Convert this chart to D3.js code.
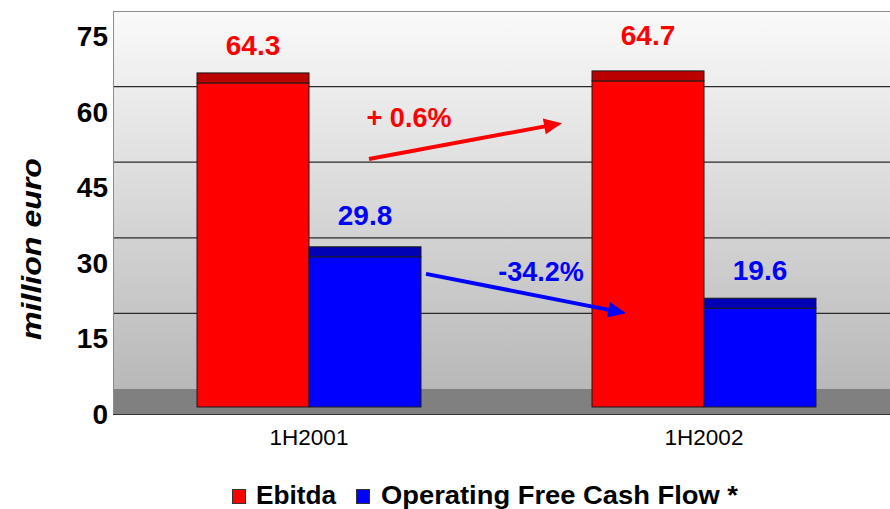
<!DOCTYPE html>
<html>
<head>
<meta charset="utf-8">
<script src="https://cdn.jsdelivr.net/npm/d3@7/dist/d3.min.js"></script>
<style>
  html, body { margin: 0; padding: 0; background: #ffffff; }
  svg { display: block; }
  text { font-family: "Liberation Sans", Arial, Helvetica, sans-serif; }
</style>
</head>
<body>
<svg id="chart" width="890" height="509"></svg>
<script>
// ---------------- data ----------------
const categories = ["1H2001", "1H2002"];
const seriesNames = ["Ebitda", "Operating Free Cash Flow *"];
const ebitda = [64.3, 64.7];
const freeCashFlow = [29.8, 19.6];
const yTicks = [0, 15, 30, 45, 60, 75];
const changeLabels = ["+ 0.6%", "-34.2%"];

// ---------------- layout ----------------
const W = 890, H = 509;
const wallLeft = 113, wallRight = 890;
const floorFront = 414;     // pixel of the floor front edge
const wallDepth = 25;       // vertical shift of the back wall
const barFrontDepth = 7;    // bar front face shift
const barBackDepth = 17;    // bar back face shift
const seriesColors = ["#ff0000", "#0000ff"];
const topColors = ["#bb0000", "#0000b4"];
// gap between bar top face and its value label [category][series]
const labelGap = [[18, 22], [26, 18]];

const svg = d3.select("#chart");

const y = d3.scaleLinear().domain([0, 75]).range([floorFront, 36]);
const x = d3.scaleBand().domain(categories).range([111.5, 901.5])
  .paddingInner(0.433).paddingOuter(0.2165);
const xs = d3.scaleBand().domain(seriesNames).range([0, x.bandwidth()]);

const values = [ebitda, freeCashFlow];

// ---------------- background wall ----------------
const defs = svg.append("defs");
const grad = defs.append("linearGradient").attr("id", "wallGrad")
  .attr("x1", 0).attr("y1", 0).attr("x2", 0).attr("y2", 1);
grad.append("stop").attr("offset", "0%").attr("stop-color", "#fafafa");
grad.append("stop").attr("offset", "100%").attr("stop-color", "#b8b8b8");

const wallTop = y(75) - wallDepth;
const wallBottom = y(0) - wallDepth;
svg.append("rect")
  .attr("x", wallLeft).attr("y", wallTop)
  .attr("width", wallRight - wallLeft).attr("height", wallBottom - wallTop)
  .attr("fill", "url(#wallGrad)");

// floor
svg.append("rect")
  .attr("x", wallLeft).attr("y", wallBottom)
  .attr("width", wallRight - wallLeft).attr("height", y(0) - wallBottom)
  .attr("fill", "#808080");

// gridlines on back wall
svg.selectAll("line.grid").data(yTicks.filter(d => d > 0 && d < 75))
  .join("line").attr("class", "grid")
  .attr("x1", wallLeft).attr("x2", wallRight)
  .attr("y1", d => y(d) - wallDepth).attr("y2", d => y(d) - wallDepth)
  .attr("stroke", "#2a2a2a").attr("stroke-width", 1.2);

// borders
svg.append("line").attr("x1", wallLeft).attr("x2", wallRight)
  .attr("y1", wallTop + 0.5).attr("y2", wallTop + 0.5)
  .attr("stroke", "#8c8c8c").attr("stroke-width", 1);
svg.append("line").attr("x1", wallLeft + 0.5).attr("x2", wallLeft + 0.5)
  .attr("y1", wallTop).attr("y2", y(0))
  .attr("stroke", "#8c8c8c").attr("stroke-width", 1);
svg.append("line").attr("x1", wallLeft).attr("x2", wallRight)
  .attr("y1", y(0) + 0.5).attr("y2", y(0) + 0.5)
  .attr("stroke", "#333333").attr("stroke-width", 1);

// ---------------- bars ----------------
const barData = [];
categories.forEach((c, ci) => {
  seriesNames.forEach((s, si) => {
    barData.push({ c, ci, s, si, v: values[si][ci] });
  });
});

const g = svg.append("g");
const bars = g.selectAll("g.bar").data(barData).join("g").attr("class", "bar");

// front face
bars.append("rect")
  .attr("x", d => x(d.c) + xs(d.s))
  .attr("y", d => y(d.v) - barFrontDepth)
  .attr("width", xs.bandwidth())
  .attr("height", d => y(0) - y(d.v))
  .attr("fill", d => seriesColors[d.si])
  .attr("stroke", "#1a1a1a").attr("stroke-width", 1);
// top face
bars.append("rect")
  .attr("x", d => x(d.c) + xs(d.s))
  .attr("y", d => y(d.v) - barBackDepth)
  .attr("width", xs.bandwidth())
  .attr("height", barBackDepth - barFrontDepth)
  .attr("fill", d => topColors[d.si])
  .attr("stroke", "#1a1a1a").attr("stroke-width", 1);

// value labels
bars.append("text")
  .attr("x", d => x(d.c) + xs(d.s) + xs.bandwidth() / 2)
  .attr("y", d => y(d.v) - barBackDepth - labelGap[d.ci][d.si])
  .attr("text-anchor", "middle")
  .attr("font-size", 28).attr("font-weight", "bold")
  .attr("fill", d => seriesColors[d.si])
  .text(d => d.v.toFixed(1));

// ---------------- change arrows ----------------
// anchors: [category index, pixel offset from band centre, value]
const arrowSpecs = [
  { from: [0, 60, 50.6], to: [1, -142, 57.7], label: [0, 100, 56.9], color: seriesColors[0], text: changeLabels[0] },
  { from: [0, 117, 27.8], to: [1, -78, 20.0], label: [0, 232, 26.4], color: seriesColors[1], text: changeLabels[1] }
];
const cx = (i) => x(categories[i]) + x.bandwidth() / 2;
arrowSpecs.forEach(a => {
  const x1 = cx(a.from[0]) + a.from[1], y1 = y(a.from[2]);
  const x2 = cx(a.to[0]) + a.to[1], y2 = y(a.to[2]);
  const dx = x2 - x1, dy = y2 - y1, len = Math.hypot(dx, dy);
  const ux = dx / len, uy = dy / len;
  const headLen = 18, headHalf = 8;
  const bx = x2 - ux * headLen, by = y2 - uy * headLen;
  svg.append("line")
    .attr("x1", x1).attr("y1", y1).attr("x2", bx + ux * 2).attr("y2", by + uy * 2)
    .attr("stroke", a.color).attr("stroke-width", 4);
  svg.append("path")
    .attr("d", `M${x2},${y2}L${bx - uy * headHalf},${by + ux * headHalf}L${bx + uy * headHalf},${by - ux * headHalf}Z`)
    .attr("fill", a.color);
  svg.append("text")
    .attr("x", cx(a.label[0]) + a.label[1]).attr("y", y(a.label[2]))
    .attr("text-anchor", "middle")
    .attr("font-size", 27).attr("font-weight", "bold")
    .attr("fill", a.color)
    .text(a.text);
});

// ---------------- axes ----------------
svg.selectAll("text.ytick").data(yTicks).join("text").attr("class", "ytick")
  .attr("x", 108).attr("y", d => y(d) + 10)
  .attr("text-anchor", "end")
  .attr("font-size", 28).attr("font-weight", "bold").attr("fill", "#000")
  .text(d => d);

svg.selectAll("text.xcat").data(categories).join("text").attr("class", "xcat")
  .attr("x", d => x(d) + x.bandwidth() / 2).attr("y", 445)
  .attr("text-anchor", "middle")
  .attr("font-size", 22.5).attr("fill", "#000")
  .text(d => d);

svg.append("text")
  .attr("transform", "translate(41,249) rotate(-90)")
  .attr("text-anchor", "middle")
  .attr("font-size", 28).attr("font-weight", "bold").attr("font-style", "italic")
  .attr("textLength", 182).attr("lengthAdjust", "spacingAndGlyphs")
  .attr("fill", "#000")
  .text("million euro");

// ---------------- legend ----------------
const legendItems = [
  { name: seriesNames[0], color: seriesColors[0], sx: 232, tx: 256, tl: 80 },
  { name: seriesNames[1], color: seriesColors[1], sx: 356, tx: 381, tl: 357 }
];
const lg = svg.append("g");
legendItems.forEach(it => {
  lg.append("rect").attr("x", it.sx + 0.5).attr("y", 489.5)
    .attr("width", 13).attr("height", 14)
    .attr("fill", it.color).attr("stroke", "#333").attr("stroke-width", 1);
  lg.append("text").attr("x", it.tx).attr("y", 504)
    .attr("font-size", 25).attr("font-weight", "bold").attr("fill", "#000")
    .attr("textLength", it.tl).attr("lengthAdjust", "spacingAndGlyphs")
    .text(it.name);
});
</script>
</body>
</html>
